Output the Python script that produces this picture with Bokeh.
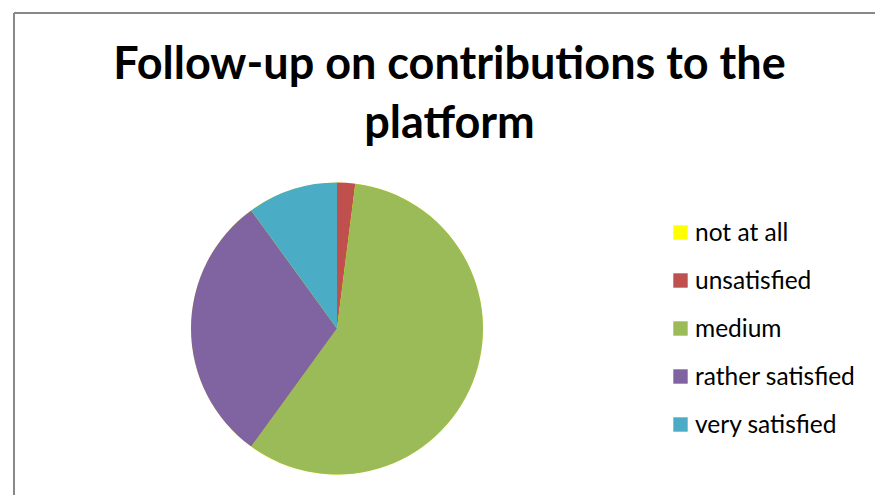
from bokeh.plotting import figure
from bokeh.models import ColumnDataSource, Legend, LegendItem
from bokeh.core.properties import value
from bokeh.embed import file_html
from bokeh.resources import INLINE
import math

# ---- data ----
categories = ["not at all", "unsatisfied", "medium", "rather satisfied", "very satisfied"]
counts = [0, 1, 29, 15, 5]
colors = ["#FFFF00", "#C0504D", "#9BBB59", "#8064A2", "#4BACC6"]
title_lines = ["Follow-up on contributions to the", "platform"]

W, H = 875, 495
total = sum(counts)
starts, ends = [], []
acc = 0.0
for c in counts:
    starts.append(math.pi / 2 - 2 * math.pi * acc / total)
    acc += c
    ends.append(math.pi / 2 - 2 * math.pi * acc / total)

cx, cy, r = 336.5, H - 328, 146

p = figure(width=W, height=H, x_range=(0, W), y_range=(0, H),
           output_backend="svg", toolbar_location=None,
           min_border=0, outline_line_color=None)
p.axis.visible = False
p.grid.visible = False
p.background_fill_color = "white"
p.border_fill_color = "white"

# chart-area frame (left and top edges visible)
p.segment(x0=[13.5, 13.5], y0=[0, H - 12.5], x1=[13.5, W], y1=[H - 12.5, H - 12.5],
          line_color="#888888", line_width=2)

src = ColumnDataSource(dict(cat=categories, val=counts, color=colors,
                            start=starts, end=ends))
renderers = []
for i in range(len(categories)):
    rr = p.wedge(x=cx, y=cy, radius=r, radius_units="screen",
                 start_angle=starts[i], end_angle=ends[i], direction="clock",
                 fill_color=colors[i], line_color=None)
    renderers.append(rr)

# title
p.text(x=[449, 449], y=[H - 61, H - 120], text=title_lines,
       text_align="center", text_baseline="alphabetic",
       text_font=value("Lato"), text_font_style="bold",
       text_font_size="45px", text_color="black")

legend = Legend(items=[LegendItem(label=categories[i], renderers=[renderers[i]])
                       for i in range(len(categories))],
                location=(671, 57), orientation="vertical",
                glyph_width=18, glyph_height=18, label_height=24,
                label_standoff=6, spacing=19, padding=0, margin=0,
                label_text_font="Lato", label_text_font_size="24.5px",
                label_text_color="black",
                border_line_color=None, background_fill_alpha=0)
p.add_layout(legend)

open("out.html", "w").write(file_html(p, INLINE))
